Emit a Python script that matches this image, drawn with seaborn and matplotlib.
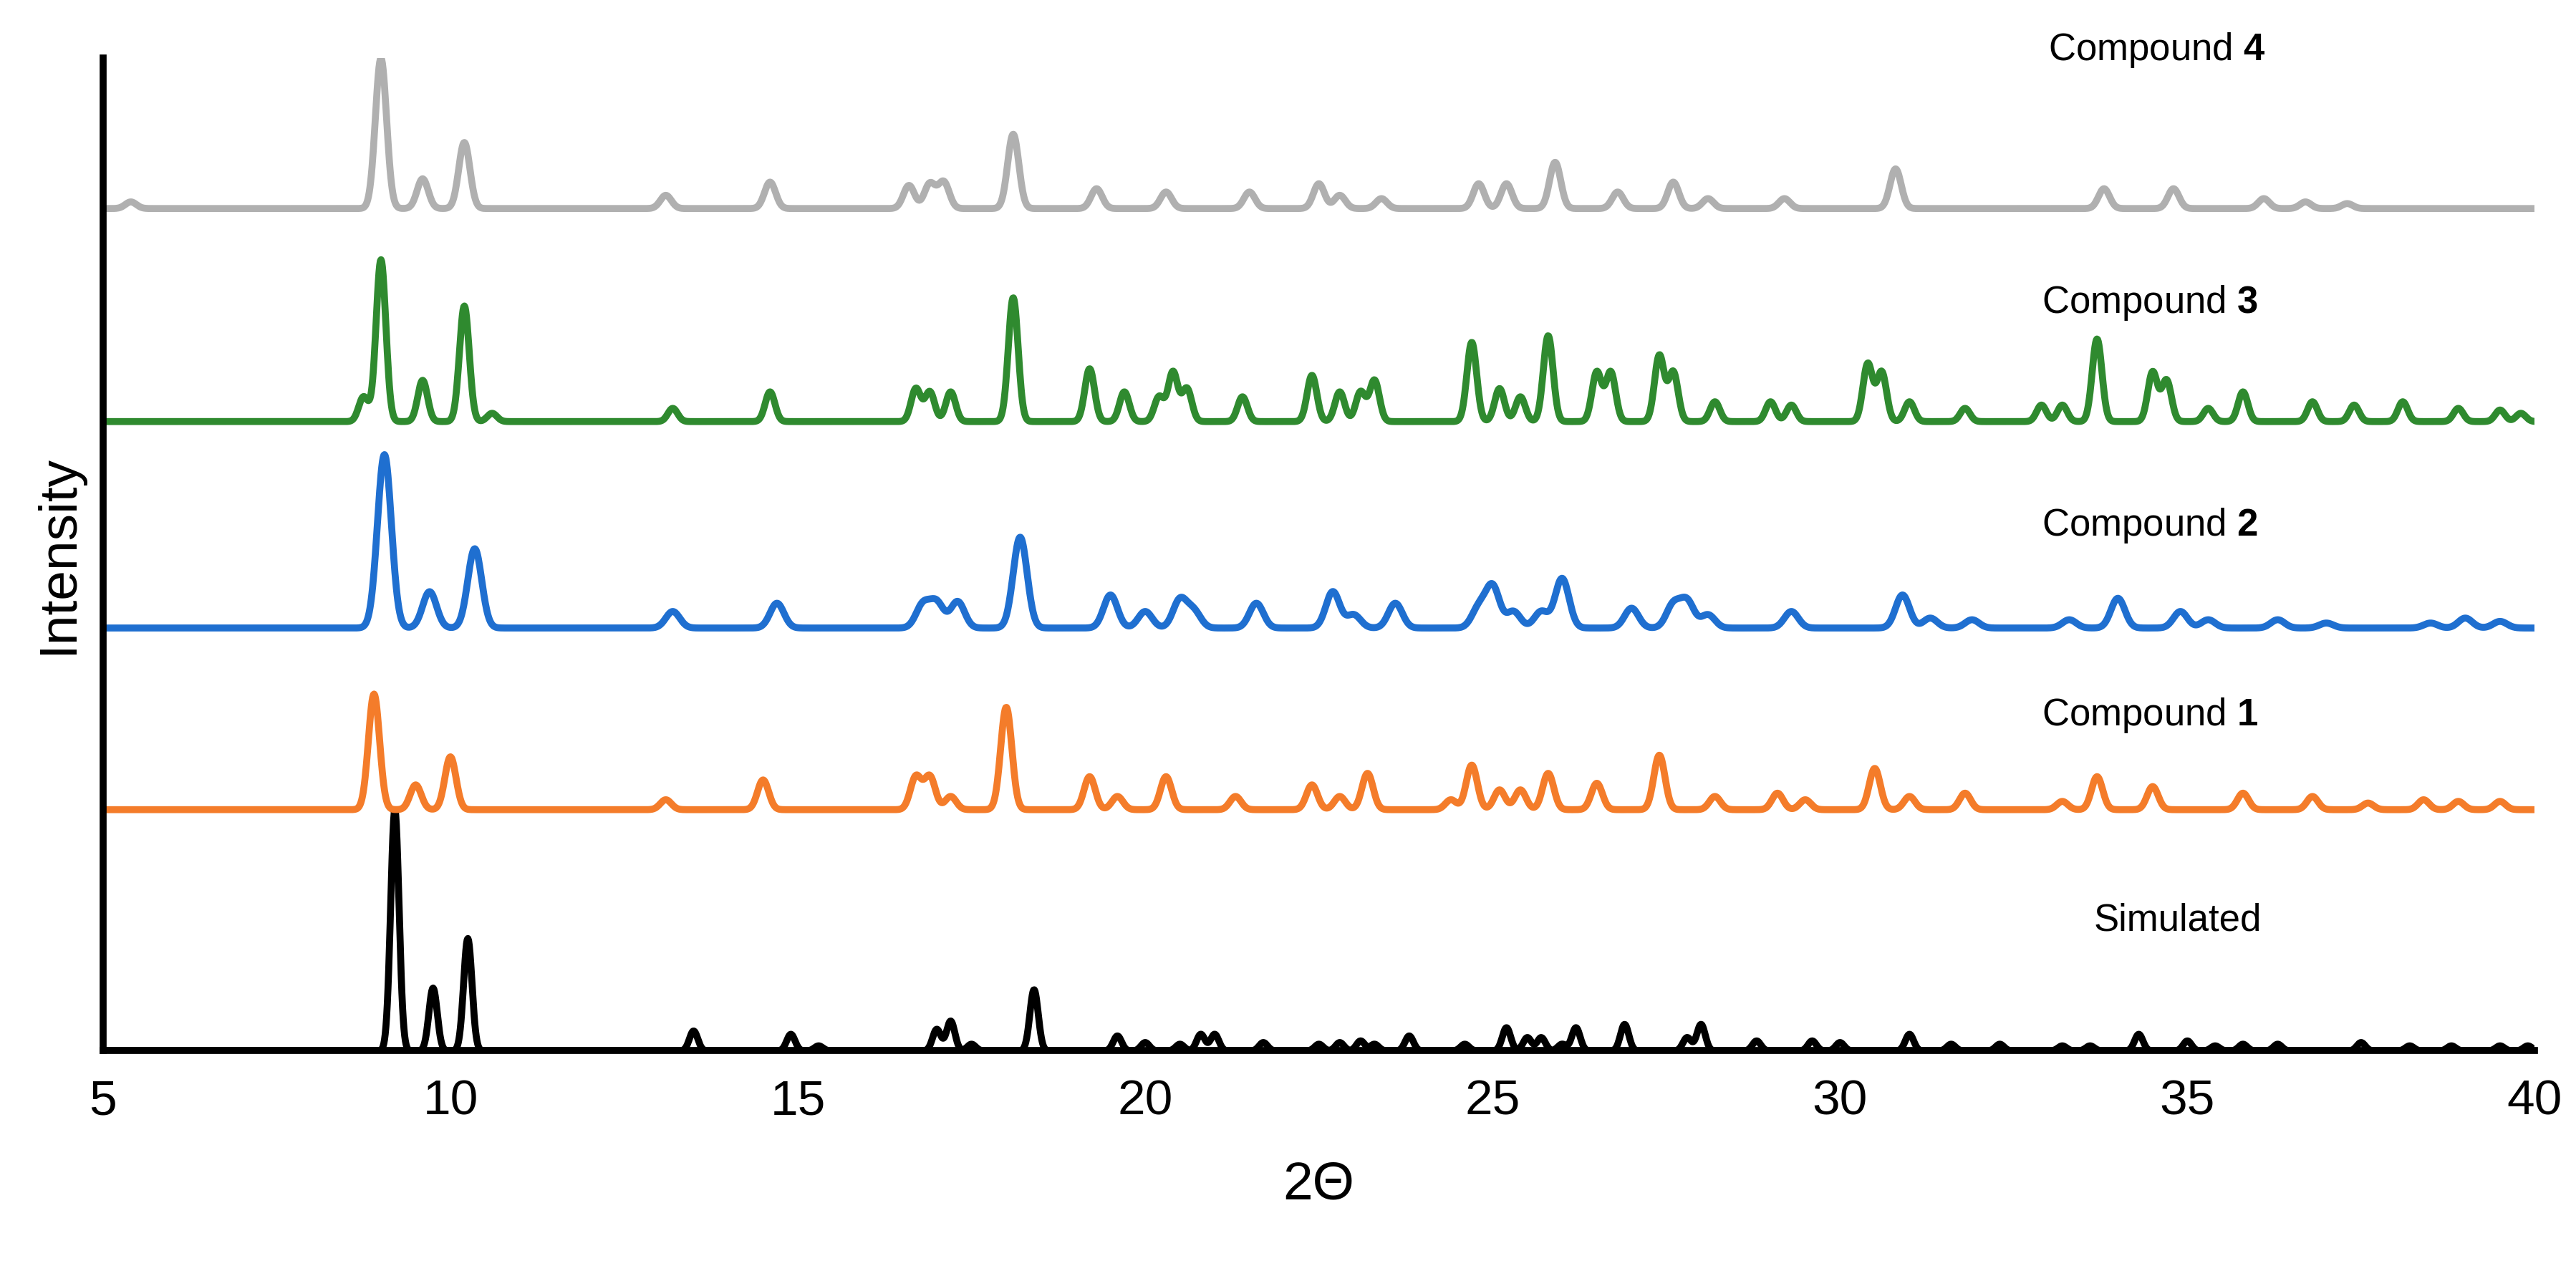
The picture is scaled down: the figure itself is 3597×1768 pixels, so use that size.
import numpy as np
import pandas as pd
import matplotlib
matplotlib.use("Agg")
import matplotlib.pyplot as plt
import seaborn as sns

sns.set_style("white")
plt.rcParams['font.family'] = ['Liberation Sans', 'DejaVu Sans']
plt.rcParams['mathtext.fontset'] = 'custom'
plt.rcParams['mathtext.bf'] = 'Liberation Sans:bold'
plt.rcParams['mathtext.rm'] = 'Liberation Sans'
plt.rcParams['text.color'] = 'black'
plt.rcParams['axes.labelcolor'] = 'black'
plt.rcParams['xtick.color'] = 'black'

series_names = ["Simulated", "Compound 1", "Compound 2", "Compound 3", "Compound 4"]
offsets = [0, 146, 256, 381, 510]
widths = [0.06, 0.08, 0.10, 0.07, 0.08]

sim_pos = [9.2, 9.75, 10.25, 13.5, 14.9, 15.3, 17.0, 17.2, 17.5, 18.4, 19.6, 20.0, 20.5, 20.8, 21.0, 21.7, 22.5, 22.8, 23.1, 23.3, 23.8, 24.6, 25.2, 25.5, 25.7, 26.0, 26.2, 26.9, 27.8, 28.0, 28.8, 29.6, 30.0, 31.0, 31.6, 32.3, 33.2, 33.6, 34.3, 35.0, 35.4, 35.8, 36.3, 37.5, 38.2, 38.8, 39.5, 39.9]
sim_h = [146, 38, 68, 12, 10, 3, 13, 18, 4, 37, 9, 5, 4, 10, 10, 5, 4, 5, 6, 4, 9, 4, 14, 8, 8, 4, 14, 16, 8, 16, 6, 6, 5, 10, 4, 4, 3, 3, 10, 6, 3, 4, 4, 5, 3, 3, 3, 3]

c1_pos = [8.9, 9.5, 10.0, 13.1, 14.5, 16.7, 16.9, 17.2, 18.0, 19.2, 19.6, 20.3, 21.3, 22.4, 22.8, 23.2, 24.4, 24.7, 25.1, 25.4, 25.8, 26.5, 27.4, 28.2, 29.1, 29.5, 30.5, 31.0, 31.8, 33.2, 33.7, 34.5, 35.8, 36.8, 37.6, 38.4, 38.9, 39.5]
c1_h = [70, 15, 32, 6, 18, 20, 20, 8, 62, 20, 8, 20, 8, 15, 8, 22, 6, 27, 12, 12, 22, 16, 33, 8, 10, 6, 25, 8, 10, 5, 20, 14, 10, 8, 4, 6, 5, 5]

c2_pos = [9.05, 9.7, 10.35, 13.2, 14.7, 16.8, 17.0, 17.3, 18.2, 19.5, 20.0, 20.5, 20.7, 21.6, 22.7, 23.0, 23.6, 24.8, 25.0, 25.3, 25.7, 26.0, 27.0, 27.6, 27.8, 28.1, 29.3, 30.9, 31.3, 31.9, 33.3, 34.0, 34.9, 35.3, 36.3, 37.0, 38.5, 39.0, 39.5]
c2_h = [105, 22, 48, 10, 15, 14, 15, 16, 55, 20, 10, 17, 10, 15, 22, 8, 15, 12, 25, 10, 10, 30, 12, 14, 16, 8, 10, 20, 6, 5, 5, 18, 10, 5, 5, 3, 3, 6, 4]

c3_pos = [8.75, 9.0, 9.6, 10.2, 10.6, 13.2, 14.6, 16.7, 16.9, 17.2, 18.1, 19.2, 19.7, 20.2, 20.4, 20.6, 21.4, 22.4, 22.8, 23.1, 23.3, 24.7, 25.1, 25.4, 25.8, 26.5, 26.7, 27.4, 27.6, 28.2, 29.0, 29.3, 30.4, 30.6, 31.0, 31.8, 32.9, 33.2, 33.7, 34.5, 34.7, 35.3, 35.8, 36.8, 37.4, 38.1, 38.9, 39.5, 39.8]
c3_h = [15, 98, 25, 70, 5, 8, 18, 20, 18, 18, 75, 32, 18, 15, 30, 20, 15, 28, 18, 18, 25, 48, 20, 15, 52, 30, 30, 40, 30, 12, 12, 10, 35, 30, 12, 8, 10, 10, 50, 30, 25, 8, 18, 12, 10, 12, 8, 7, 5]

c4_pos = [5.4, 9.0, 9.6, 10.2, 13.1, 14.6, 16.6, 16.9, 17.1, 18.1, 19.3, 20.3, 21.5, 22.5, 22.8, 23.4, 24.8, 25.2, 25.9, 26.8, 27.6, 28.1, 29.2, 30.8, 33.8, 34.8, 36.1, 36.7, 37.3]
c4_h = [4, 91, 18, 40, 8, 16, 14, 15, 16, 45, 12, 10, 10, 15, 8, 6, 15, 15, 28, 10, 16, 6, 6, 24, 12, 12, 6, 4, 3]

peaks = [(sim_pos, sim_h), (c1_pos, c1_h), (c2_pos, c2_h), (c3_pos, c3_h), (c4_pos, c4_h)]
colors = ["#000000", "#f47c2a", "#1f6fd0", "#2f8a2f", "#b0b0b0"]

x = np.linspace(5, 40, 3500)
frames = []
for name, off, w, (pos, h) in zip(series_names, offsets, widths, peaks):
    y = np.zeros_like(x)
    for p, hh in zip(pos, h):
        y += hh * np.exp(-0.5 * ((x - p) / w) ** 2)
    frames.append(pd.DataFrame({"2θ": x, "I": y + off, "series": name}))
df = pd.concat(frames)

fig, ax = plt.subplots(figsize=(17.985, 8.84), dpi=200)
fig.subplots_adjust(left=0.04, right=0.984, bottom=0.17, top=0.954)
sns.lineplot(data=df, x="2θ", y="I", hue="series", palette=dict(zip(series_names, colors)),
             linewidth=3.5, legend=False, ax=ax, sort=False, estimator=None)
ax.set_xlim(5, 40)
ax.set_ylim(0, 601)
ax.set_yticks([])
ax.set_xticks([5, 10, 15, 20, 25, 30, 35, 40])
ax.tick_params(axis='x', labelsize=25, length=0, pad=14)
for s in ["top", "right"]:
    ax.spines[s].set_visible(False)
for s in ["left", "bottom"]:
    ax.spines[s].set_linewidth(3.5)
    ax.spines[s].set_color("black")
ax.set_xlabel("2Θ", fontsize=27, labelpad=18)
ax.set_ylabel("Intensity", fontsize=27, labelpad=10)

labels = [("Simulated", 33.65, 79), (r"Compound $\mathbf{1}$", 32.9, 203),
          (r"Compound $\mathbf{2}$", 32.9, 318), (r"Compound $\mathbf{3}$", 32.9, 453),
          (r"Compound $\mathbf{4}$", 33.0, 606)]
for t, lx, ly in labels:
    ax.text(lx, ly, t, fontsize=19, va="center", ha="left", clip_on=False)

fig.savefig("out.png", dpi=200)
